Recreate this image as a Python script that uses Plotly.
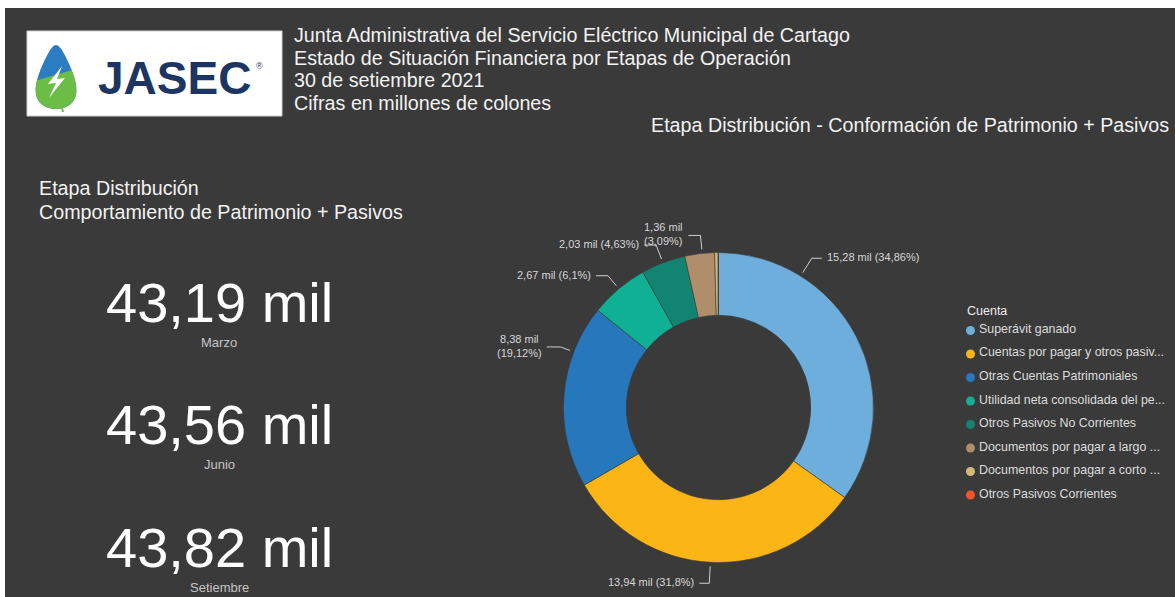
import math
import plotly.graph_objects as go

W, H = 1175, 597

# ---- data -------------------------------------------------------------
cuentas = [
    "Superávit ganado",
    "Cuentas por pagar y otros pasivos",
    "Otras Cuentas Patrimoniales",
    "Utilidad neta consolidada del periodo",
    "Otros Pasivos No Corrientes",
    "Documentos por pagar a largo plazo",
    "Documentos por pagar a corto plazo",
    "Otros Pasivos Corrientes",
]
legend_labels = [
    "Superávit ganado",
    "Cuentas por pagar y otros pasiv...",
    "Otras Cuentas Patrimoniales",
    "Utilidad neta consolidada del pe...",
    "Otros Pasivos No Corrientes",
    "Documentos por pagar a largo ...",
    "Documentos por pagar a corto ...",
    "Otros Pasivos Corrientes",
]
montos = [15.277, 13.936, 8.378, 2.673, 2.029, 1.3555, 0.155, 0.0165]  # miles de millones ("mil")

meses = ["Marzo", "Junio", "Setiembre"]
totales_mes = [43.19, 43.56, 43.82]

# ---- styles -----------------------------------------------------------
BG = "#3a3a3a"
colores = ["#6daedc", "#fbb515", "#2777bd", "#10b094", "#118572",
           "#b08e6b", "#d4b97a", "#f0562a"]
TXT = "#f2f2f2"
SUB = "#c4c4c4"
LBL = "#d6d6d6"
FONT = "Liberation Sans, Arial, sans-serif"
TITLE_SIZE = 19.7

# donut geometry (pixels)
CX, CY, R = 718.5, 407.5, 155

# outside label placement per slice: (angle deg clockwise from top,
# elbow radius offset, horizontal length, side, two-line)
label_style = [
    (32, 21, 10, +1, False),
    (183, 21, 10, -1, False),
    (291, 14, 14, -1, True),
    (320, 17, 12, -1, False),
    (339, 19, 12, -1, False),
    (354, 18, 12, -1, True),
]


def px(x):
    return x / W


def py(y):
    return 1 - y / H


def fmt(v, nd=2):
    s = f"{v:.{nd}f}"
    if "." in s:
        s = s.rstrip("0").rstrip(".")
    return s.replace(".", ",")


fig = go.Figure()

fig.add_trace(go.Pie(
    labels=cuentas,
    values=montos,
    hole=0.595,
    sort=False,
    direction="clockwise",
    rotation=0,
    marker=dict(colors=colores, line=dict(color=BG, width=0.6)),
    textinfo="none",
    hoverinfo="label+value+percent",
    showlegend=False,
    domain=dict(x=[px(CX - R), px(CX + R)], y=[py(CY + R), py(CY - R)]),
))

shapes = []
annotations = []

# background panel
shapes.append(dict(type="rect", xref="paper", yref="paper",
                   x0=px(5), x1=1, y0=0, y1=py(8),
                   fillcolor=BG, line=dict(width=0), layer="below"))

# ---- logo ---------------------------------------------------------------
shapes.append(dict(type="rect", xref="paper", yref="paper",
                   x0=px(27), x1=px(282), y0=py(116), y1=py(31),
                   fillcolor="white", line=dict(color="#d0d0d0", width=1)))


def path(points, close=True):
    d = "M " + " L ".join(f"{px(x):.5f},{py(y):.5f}" for x, y in points)
    return d + (" Z" if close else "")


def drop_curve():
    pts = []
    # teardrop outline sampled along a parametric curve
    for i in range(0, 61):
        t = 2 * math.pi * i / 60
        x = 56 + 21 * math.sin(t) * (1 - 0.25 * math.cos(t)) * (0.55 + 0.45 * (1 - math.cos(t)) / 2) / 0.9
        y = 77 - 32 * math.cos(t)
        pts.append((x, y))
    return pts


drop = drop_curve()
shapes.append(dict(type="path", xref="paper", yref="paper", path=path(drop),
                   fillcolor="#2c7cc2", line=dict(width=0)))
# green lower half of the drop (leaf)
green = [(x, y) for x, y in drop if y > 80 - (x - 34) * 0.35]
green = sorted(green, key=lambda p: math.atan2(p[1] - 85, p[0] - 56))
shapes.append(dict(type="path", xref="paper", yref="paper", path=path(green),
                   fillcolor="#6cbd45", line=dict(width=0)))
shapes.append(dict(type="path", xref="paper", yref="paper",
                   path=path([(60, 104), (62, 112), (64, 112), (62, 104)]),
                   fillcolor="#6cbd45", line=dict(width=0)))
# lightning bolt
shapes.append(dict(type="path", xref="paper", yref="paper",
                   path=path([(62, 66), (48, 84), (56, 83), (49, 98),
                              (65, 78), (57, 79)]),
                   fillcolor="white", line=dict(width=0)))

annotations.append(dict(x=px(96), y=py(78), xref="paper", yref="paper",
                        text="<b>JASEC</b>", showarrow=False, xanchor="left",
                        yanchor="middle",
                        font=dict(family="Liberation Sans, Arial", size=46,
                                  color="#1c3563")))
annotations.append(dict(x=px(254), y=py(66), xref="paper", yref="paper",
                        text="®", showarrow=False, xanchor="left",
                        yanchor="middle",
                        font=dict(family=FONT, size=9, color="#1c3563")))

# ---- header texts ------------------------------------------------------
header = [
    "Junta Administrativa del Servicio Eléctrico Municipal de Cartago",
    "Estado de Situación Financiera por Etapas de Operación",
    "30 de setiembre 2021",
    "Cifras en millones de colones",
]
for i, t in enumerate(header):
    annotations.append(dict(x=px(292), y=py(35 + 22.7 * i), xref="paper",
                            yref="paper", text=t, showarrow=False,
                            xanchor="left", yanchor="middle",
                            font=dict(family=FONT, size=TITLE_SIZE, color=TXT)))

annotations.append(dict(x=px(1171), y=py(125), xref="paper", yref="paper",
                        text="Etapa Distribución - Conformación de Patrimonio + Pasivos",
                        showarrow=False, xanchor="right", yanchor="middle",
                        font=dict(family=FONT, size=TITLE_SIZE, color=TXT)))

for i, t in enumerate(["Etapa Distribución",
                       "Comportamiento de Patrimonio + Pasivos"]):
    annotations.append(dict(x=px(37), y=py(188 + 24 * i), xref="paper",
                            yref="paper", text=t, showarrow=False,
                            xanchor="left", yanchor="middle",
                            font=dict(family=FONT, size=TITLE_SIZE, color=TXT)))

# ---- KPI cards -----------------------------------------------------------
for i, (mes, tot) in enumerate(zip(meses, totales_mes)):
    yc = 302 + 122.5 * i
    annotations.append(dict(x=px(219), y=py(yc), xref="paper", yref="paper",
                            text=f"{fmt(tot)} mil", showarrow=False,
                            xanchor="center", yanchor="middle",
                            font=dict(family=FONT, size=56, color="white")))
    annotations.append(dict(x=px(219), y=py(yc + 40), xref="paper",
                            yref="paper", text=mes, showarrow=False,
                            xanchor="center", yanchor="middle",
                            font=dict(family=FONT, size=13, color=SUB)))

# ---- donut data labels -------------------------------------------------
total = sum(montos)
for i, (ang, ext, hlen, side, two) in enumerate(label_style):
    v = montos[i]
    pct = 100 * v / total
    a = math.radians(ang)
    sx, sy = CX + (R + 4) * math.sin(a), CY - (R + 4) * math.cos(a)
    ex, ey = CX + (R + ext) * math.sin(a), CY - (R + ext) * math.cos(a)
    hx = ex + side * hlen
    shapes.append(dict(type="path", xref="paper", yref="paper",
                       path=path([(sx, sy), (ex, ey), (hx, ey)], close=False),
                       line=dict(color="#cfcfcf", width=1)))
    sep = "<br>" if two else " "
    txt = f"{fmt(v)} mil{sep}({fmt(pct)}%)"
    annotations.append(dict(x=px(hx + side * 3), y=py(ey - 1), xref="paper",
                            yref="paper", text=txt, showarrow=False,
                            xanchor="left" if side > 0 else "right",
                            yanchor="middle", align="center",
                            font=dict(family=FONT, size=11, color=LBL)))

# ---- legend ------------------------------------------------------------
annotations.append(dict(x=px(965), y=py(311), xref="paper", yref="paper",
                        text="Cuenta", showarrow=False, xanchor="left",
                        yanchor="middle",
                        font=dict(family=FONT, size=12.5, color="#ececec")))
for i, (lab, col) in enumerate(zip(legend_labels, colores)):
    yy = 330 + 23.5 * i
    shapes.append(dict(type="circle", xref="paper", yref="paper",
                       x0=px(966), x1=px(975), y0=py(yy + 5), y1=py(yy - 4),
                       fillcolor=col, line=dict(width=0)))
    annotations.append(dict(x=px(977), y=py(yy - 1), xref="paper",
                            yref="paper", text=lab, showarrow=False,
                            xanchor="left", yanchor="middle",
                            font=dict(family=FONT, size=12.4, color="#dcdcdc")))

fig.update_layout(
    width=W, height=H,
    margin=dict(l=0, r=0, t=0, b=0),
    paper_bgcolor="white",
    plot_bgcolor=BG,
    shapes=shapes,
    annotations=annotations,
    showlegend=False,
)

fig.write_html("out.html")
